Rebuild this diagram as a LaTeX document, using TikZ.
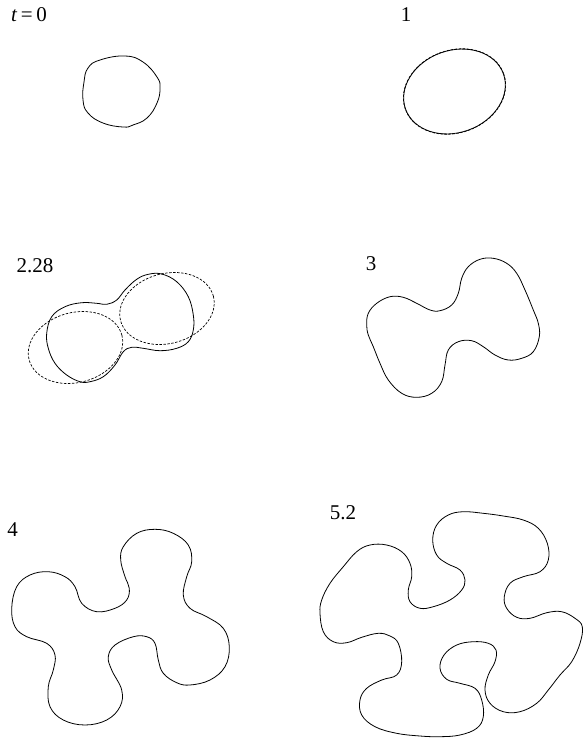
\documentclass[tikz,border=0pt]{standalone}
\usepackage{fontspec}
\setmainfont{Liberation Serif}
\usepackage{tikz}

\begin{document}
\begin{tikzpicture}[
  x=1pt, y=-1pt,
  every node/.style={font=\fontsize{21}{24}\selectfont, inner sep=0pt},
  front/.style={draw, line width=0.8pt},
  ghost/.style={draw, line width=0.7pt, dash pattern=on 2.5pt off 1.5pt},
  blob/.style={smooth cycle, tension=0.65}
]
\useasboundingbox (0,0) rectangle (583,740);

% time labels
\node (t0) at (29,15) {\textit{t}\,=\,0};
\node (t1) at (406,15) {1};
\node (t2) at (35,266) {2.28};
\node (t3) at (371,264) {3};
\node (t4) at (12.5,530) {4};
\node (t5) at (343,513) {5.2};

% t = 0
\draw[front] plot[blob, tension=0.75] coordinates {(88,68) (100,60) (125,56) (143,62) (157,77) (160,88)
  (157,103) (147,118) (133,125) (123,127) (103,123) (88,113) (83,100) (84,82)};

% t = 1
\draw[front] (454.5,91.5) ellipse[x radius=52, y radius=41, rotate=20];
\draw[ghost] (454.5,91.5) ellipse[x radius=52.3, y radius=41.3, rotate=20];

% t = 2.28
\draw[front] plot[blob] coordinates {(161.7,274) (176.7,281.7) (188.3,296.7) (193.3,315)
  (193.3,330) (188.3,341.7) (176.7,348.3) (160,350.7) (143.3,348.3) (131.7,347.3)
  (123.3,351.7) (115,365) (103.3,376.7) (90,381.7) (80,381.7) (66.7,375) (55,363.3)
  (48.3,348.3) (46.7,333.3) (51.7,316.7) (65,306.7) (81.7,302.7) (96.7,303.3) (106.7,304.3)
  (116.7,300) (125,290) (136.7,279.3) (148.3,274.3)};
\draw[ghost] (75.5,347.5) ellipse[x radius=48, y radius=35, rotate=15];
\draw[ghost] (167,308.5) ellipse[x radius=48, y radius=35, rotate=15];

% t = 3
\draw[front] plot[blob] coordinates {(366.7,325) (368.3,313.3) (376.7,303.3) (390,296.7)
  (403.3,297.3) (416.7,303.3) (430,310) (440,310.7) (451.7,305) (458.3,293.3) (461.7,278.3)
  (468.3,266.7) (480,259.3) (493.3,258.3) (506.7,263.3) (516.7,273.3) (525,290) (533.3,310)
  (538.3,323.3) (539.3,336.7) (533.3,351.7) (521.7,358.3) (508.3,360) (495,355) (483.3,346.7)
  (471.7,340.7) (458.3,341.7) (448.3,350) (445,365) (441.7,381.7) (431.7,393.3) (416.7,397.3)
  (401.7,393.3) (388.3,380) (380,363.3) (373.3,346.7) (368.3,335)};

% t = 4
\draw[front] plot[blob] coordinates {(96.7,611.7) (81.7,603.3) (75,586.7) (65,576.7)
  (48.3,571.7) (30,575) (16.7,586.7) (11.7,608.3) (15,626.7) (26.7,636.7) (46.7,643.3)
  (55,655) (53.3,670) (48.3,686.7) (50,706.7) (63.3,720) (85,725) (106.7,720) (120,706.7)
  (121.7,690) (111.7,670) (108.3,656.7) (115,645) (133.3,636.7) (146.7,636.7) (155,643.3)
  (158.3,660) (163.3,673.3) (176.7,682.7) (190,685) (210,680) (225,666.7) (229.3,646.7)
  (223.3,628.3) (206.7,616.7) (190,608.3) (183.3,595) (186.7,576.7) (191.7,561.7)
  (188.3,545) (173.3,533.3) (155,529.3) (136.7,533.3) (123.3,546.7) (120.7,560) (125,576.7)
  (129.3,588.3) (126.7,600) (115,608.3)};

% t = 5.2
\draw[front] plot[blob] coordinates {(320,613.3) (321.7,600) (330,583.3) (343.3,566.7)
  (356.7,551.7) (370,545) (386.7,545) (401.7,551.7) (410,563.3) (411.7,576.7) (408.3,590)
  (410,601.7) (420,608.3) (433.3,606.7) (450,600) (461.7,590) (465,580) (460,570)
  (446.7,563.3) (436.7,555) (432.7,540) (436.7,525) (448.3,515) (463.3,511.7) (483.3,513.3)
  (503.3,516) (523.3,520) (538.3,528.3) (547.3,543.3) (548.3,560) (540,571.7) (523.3,576.7)
  (510,583.3) (504.3,596.7) (506.7,608.3) (516.7,617.3) (530,618.3) (546.7,612.7)
  (561.7,611.7) (575,618.3) (582.3,626.7) (580,643.3) (571.7,661.7) (560,675) (548.3,690)
  (536.7,703.3) (520,711.7) (503.3,711.7) (490,703.3) (485,690) (488.3,675) (495,661.7)
  (496,650) (488.3,643.3) (473.3,641.7) (456.7,645) (444,655) (440,668.3) (446.7,679.3)
  (460,683.3) (475,688.3) (481.7,700) (483.3,716.7) (476.7,728.3) (460,735) (440,736.7)
  (420,736) (396.7,733.3) (375,726.7) (361.7,715) (360,700) (366.7,688.3) (381.7,680)
  (396.7,675) (401.7,661.7) (398.3,643.3) (390,636) (378.3,633.3) (361.7,637.3)
  (346.7,642.7) (333.3,641.7) (323.3,631.7)};
\end{tikzpicture}
\end{document}
